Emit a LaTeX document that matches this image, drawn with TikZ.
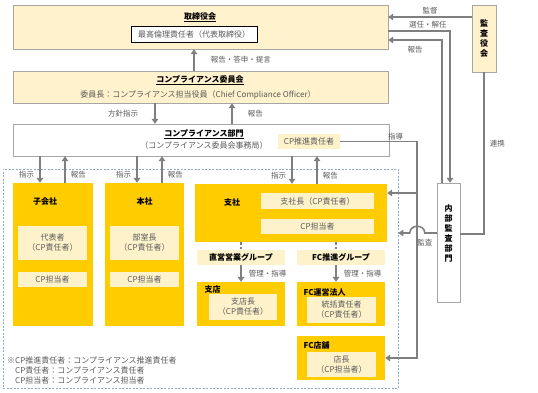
\documentclass[tikz,border=0pt]{standalone}
\usepackage{fontspec}
\setmainfont{Noto Sans CJK JP}
\usetikzlibrary{arrows.meta,positioning,calc}
\definecolor{paleyel}{HTML}{FFF2CC}
\definecolor{goldyel}{HTML}{FFCC00}
\definecolor{innyel}{HTML}{FEF2CB}
\definecolor{linegray}{HTML}{7F7F7F}
\definecolor{framegray}{HTML}{A6A6A6}
\definecolor{txtgray}{HTML}{595959}
\definecolor{dashblue}{HTML}{8FAACC}
\newcommand{\cpresp}{（CP責任者）}

\begin{document}
\begin{tikzpicture}[x=1pt, y=-1pt,
  font=\fontsize{8}{10}\selectfont,
  panel/.style={draw=framegray, fill=paleyel, minimum width=375pt, minimum height=#1, inner sep=0pt},
  unit/.style={fill=goldyel, minimum width=#1, inner sep=0pt},
  unit/.default=88pt,
  slot/.style={fill=innyel, text=txtgray, align=center, minimum width=#1, inner sep=1pt},
  slot/.default=69pt,
  head/.style={font=\fontsize{8}{10}\selectfont\bfseries},
  lbl/.style={text=txtgray, font=\fontsize{7.5}{9}\selectfont, inner sep=1pt},
  arr/.style={-{Triangle[length=5pt,width=6.5pt]}, linegray, line width=1.6pt},
  wire/.style={linegray, line width=1.6pt},
  dline/.style={linegray, line width=1.6pt, dash pattern=on 3pt off 2pt}]
\useasboundingbox (0,0) rectangle (538,392);
\node[draw=dashblue, line width=0.8pt, dash pattern=on 2pt off 1.5pt, minimum width=395pt, minimum height=219pt] (grp) at (200.5,278.5) {};
\node[panel=44pt] (board) at (200.5,27) {};
\node[head] (boardt) at (200,17) {\underline{取締役会}};
\node[draw=black, fill=white, text=txtgray, minimum width=126pt, minimum height=16pt, inner sep=0pt] (ceo) at (194,34) {最高倫理責任者（代表取締役）};
\node[panel=32pt] (cmte) at (200.5,87) {};
\node[head] (cmtet) at (200,80) {\underline{コンプライアンス委員会}};
\node[text=txtgray] (chair) at (198,94.5) {委員長：コンプライアンス担当役員（Chief Compliance Officer）};
\node[draw=framegray, fill=white, minimum width=376pt, minimum height=32pt] (dept) at (201,140) {};
\node[head] (deptt) at (204,134) {\underline{コンプライアンス部門}};
\node[text=txtgray] (depts) at (204,145) {（コンプライアンス委員会事務局）};
\node[slot=62pt, minimum height=15pt] (cpp) at (309,141.5) {CP推進責任者};
\node[draw=framegray, fill=paleyel, head, align=center, minimum width=24pt, minimum height=67pt, inner sep=0pt] (kab) at (484,38.5) {監\\査\\役\\会};
\node[draw=framegray, fill=white, minimum width=23pt, minimum height=119pt] (iad) at (448.5,242.5) {};
\node[head, align=center, font=\fontsize{8}{10}\selectfont\bfseries] (iadt) at (448.5,233) {内\\部\\監\\査\\部\\門};
\node[unit=80pt, minimum height=143pt] (sub) at (53,254.5) {};
\node[head] (subt) at (45,201) {子会社};
\node[slot, minimum height=34pt] (subrep) at (52.5,243) {代表者\\\cpresp};
\node[slot, minimum height=15pt] (subcp) at (52.5,279.5) {CP担当者};
\node[unit=79pt, minimum height=143pt] (hq) at (144.5,254.5) {};
\node[head] (hqt) at (144.5,201) {本社};
\node[slot, minimum height=34pt] (hqrep) at (144.5,243) {部室長\\\cpresp};
\node[slot, minimum height=15pt] (hqcp) at (144.5,279.5) {CP担当者};
\node[unit=192pt, minimum height=58pt] (br) at (291,213) {};
\node[head] (brt) at (232,202) {支社};
\node[slot=113pt, minimum height=16pt] (brrep) at (317.5,201) {支社長\cpresp};
\node[slot=113pt, minimum height=15pt] (brcp) at (317.5,226.5) {CP担当者};
\node[slot=88pt, head, text=black, minimum height=15pt] (dg) at (241,257) {直営営業グループ};
\node[slot=88pt, head, text=black, minimum height=15pt] (fcg) at (341,257) {FC推進グループ};
\node[unit, minimum height=44pt] (shop) at (241,304) {};
\node[head, anchor=west] (shopt) at (201,289) {支店};
\node[slot=68pt, minimum height=26pt] (shoprep) at (243,306.5) {支店長\\\cpresp};
\node[unit, minimum height=44pt] (fcc) at (341,304) {};
\node[head, anchor=west] (fcct) at (300,292) {FC運営法人};
\node[slot, minimum height=26pt] (fccrep) at (341.5,310) {統括責任者\\\cpresp};
\node[unit, minimum height=44pt] (fcs) at (341,358) {};
\node[head, anchor=west] (fcst) at (300,345) {FC店舗};
\node[slot, minimum height=25pt] (fcsrep) at (341.5,364.5) {店長\\（CP担当者）};
\node[text=txtgray, anchor=north west, align=left, inner sep=0pt] (note) at (7,357)
  {※CP推進責任者：コンプライアンス推進責任者\\\hspace*{8pt}CP責任者：コンプライアンス責任者\\\hspace*{8pt}CP担当者：コンプライアンス担当者};
\draw[arr] (cmte.north -| ceo) -- node[lbl, right=15pt]{報告・答申・提言} (board.south -| ceo);
\draw[arr] (155,0 |- cmte.south) -- node[lbl, left=15pt]{方針指示} (155,0 |- dept.north);
\draw[arr] (232,0 |- dept.north) -- node[lbl, right=14pt]{報告} (232,0 |- cmte.south);
\foreach \x/\b in {40/sub, 137/hq, 292/br}
  \draw[arr] (\x,0 |- dept.south) -- node[lbl, left=4pt, pos=0.7]{指示} (\x,0 |- \b.north);
\foreach \x/\b in {65/sub, 162/hq, 317/br}
  \draw[arr] (\x,0 |- \b.north) -- node[lbl, right=4pt, pos=0.3]{報告} (\x,0 |- dept.south);
\foreach \x/\g/\s in {241/dg/shop, 336/fcg/fcc} {
  \draw[dline] (\x,0 |- br.south) -- (\x,0 |- \g.north);
  \draw[arr] (\x,0 |- \g.south) -- node[lbl, right=6pt]{管理・指導} (\x,0 |- \s.north);
}
\draw[arr] (cpp.east) -| node[lbl, above, pos=0.36]{指導} ([xshift=32pt]fcs.east) -- (fcs.east);
\coordinate (tap) at (418,193);
\draw[arr] (tap) -- (br.east |- tap);
\draw[arr] (kab.west |- 0,17) -- node[lbl, above=1pt]{監督} (board.east |- 0,17);
\draw[arr] (board.east |- 0,31) -| node[lbl, above=1pt, pos=0.32]{選任・解任} ([xshift=1.5pt]iad.north);
\draw[arr] ([xshift=-6.5pt]iad.north) |- node[lbl, below=4pt, pos=0.75]{報告} (board.east |- 0,40);
\draw[wire] (kab.south) |- node[lbl, right=4pt, pos=0.22]{連携} (iad.east |- 0,234);
\draw[arr] (iad.west |- 0,233) -- ++(-12,0) node[lbl, below=4pt]{監査}
  .. controls +(0,-9) and +(0,-9) .. ++(-15,0) -- (grp.east |- 0,233);
\end{tikzpicture}
\end{document}
